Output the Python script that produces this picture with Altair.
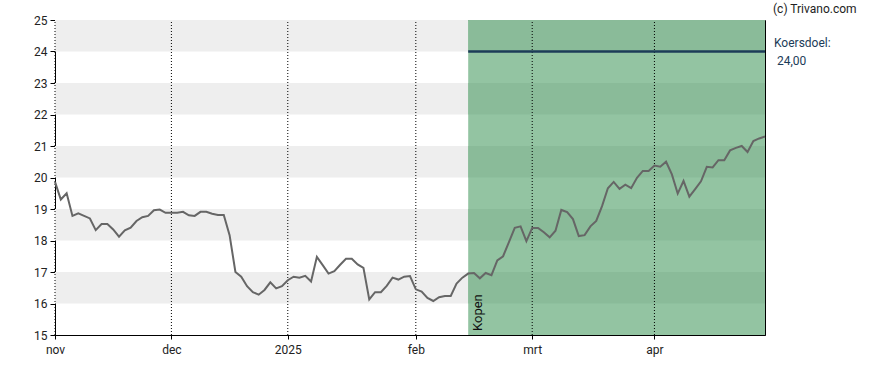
import altair as alt
import pandas as pd

prices = [
    19.86, 19.30, 19.50, 18.78, 18.86, 18.78, 18.70, 18.33, 18.52, 18.52,
    18.35, 18.12, 18.32, 18.41, 18.62, 18.74, 18.78, 18.96, 18.98, 18.88,
    18.88, 18.88, 18.91, 18.80, 18.78, 18.91, 18.91, 18.85, 18.81, 18.81,
    18.17, 17.00, 16.85, 16.55, 16.36, 16.28, 16.43, 16.67, 16.48, 16.55,
    16.74, 16.85, 16.82, 16.88, 16.70, 17.48, 17.22, 16.95, 17.03, 17.23,
    17.42, 17.42, 17.24, 17.13, 16.13, 16.36, 16.36, 16.56, 16.82, 16.76,
    16.85, 16.87, 16.45, 16.38, 16.18, 16.08, 16.20, 16.24, 16.24, 16.63,
    16.82, 16.95, 16.97, 16.80, 16.97, 16.90, 17.37, 17.50, 17.95, 18.40,
    18.45, 17.98, 18.40, 18.40, 18.26, 18.10, 18.31, 18.97, 18.90, 18.68,
    18.14, 18.17, 18.45, 18.62, 19.09, 19.66, 19.86, 19.64, 19.77, 19.66,
    19.99, 20.21, 20.21, 20.38, 20.34, 20.50, 20.10, 19.49, 19.89, 19.39,
    19.63, 19.88, 20.34, 20.32, 20.55, 20.55, 20.86, 20.94, 21.00, 20.81,
    21.16, 21.24, 21.30,
]
month_ticks = [0, 20, 40, 62, 82, 103]
month_labels = ["nov", "dec", "2025", "feb", "mrt", "apr"]
band_lows = [16, 18, 20, 22, 24]
y_min, y_max = 15, 25
signal_start = 71
signal_label = "Kopen"
target_value = 24.0
copyright_text = "(c) Trivano.com"
target_title = "Koersdoel:"

FONT = "Roboto"
W, H = 710, 315

n = len(prices)
last = n - 1
df = pd.DataFrame({"i": list(range(n)), "price": prices})

grey_bands = pd.DataFrame({"x": [0] * len(band_lows), "x2": [signal_start] * len(band_lows),
                           "y": band_lows, "y2": [b + 1 for b in band_lows]})
green_bands = pd.DataFrame({"x": [signal_start] * len(band_lows), "x2": [last] * len(band_lows),
                            "y": band_lows, "y2": [b + 1 for b in band_lows]})
green_full = pd.DataFrame({"x": [signal_start], "x2": [last], "y": [y_min], "y2": [y_max]})
ticks_df = pd.DataFrame({"x": month_ticks, "y": [y_min] * len(month_ticks),
                         "y2": [y_max] * len(month_ticks)})
target_df = pd.DataFrame({"x": [signal_start], "x2": [last], "y": [target_value]})
signal_df = pd.DataFrame({"x": [signal_start], "y": [y_min], "t": [signal_label]})

label_expr = ""
for t, l in zip(month_ticks, month_labels):
    label_expr += f"datum.value == {t} ? '{l}' : "
label_expr += "''"

xscale = alt.Scale(domain=[0, last], nice=False, zero=False)
yscale = alt.Scale(domain=[y_min, y_max], nice=False, zero=False)

xaxis = alt.Axis(values=month_ticks, labelExpr=label_expr, title=None, grid=False,
                 tickSize=4, tickColor="#000", domainColor="#000", labelFont=FONT,
                 labelFontSize=12, labelColor="#222", labelPadding=5, labelFlush=False,
                 labelOverlap=False)
yaxis = alt.Axis(values=list(range(y_min, y_max + 1)), title=None, grid=False,
                 tickSize=5, tickColor="#000", domainColor="#000", labelFont=FONT,
                 labelFontSize=12, labelColor="#222", labelPadding=3, labelOverlap=False,
                 labelFlush=False)


def X(f):
    return alt.X(f, scale=xscale, axis=xaxis)


def Y(f):
    return alt.Y(f, scale=yscale, axis=yaxis)


grey = alt.Chart(grey_bands).mark_rect(color="#eeeeee").encode(
    x=X("x:Q"), x2="x2", y=Y("y:Q"), y2="y2")
gfull = alt.Chart(green_full).mark_rect(color="#93c4a2").encode(
    x=X("x:Q"), x2="x2", y=Y("y:Q"), y2="y2")
gbands = alt.Chart(green_bands).mark_rect(color="#8abb99").encode(
    x=X("x:Q"), x2="x2", y=Y("y:Q"), y2="y2")
grid = alt.Chart(ticks_df).mark_rule(color="#000", strokeWidth=1, strokeDash=[1, 2]).encode(
    x=X("x:Q"), y=Y("y:Q"), y2="y2")
target = alt.Chart(target_df).mark_rule(color="#1c3c58", strokeWidth=2.5).encode(
    x=X("x:Q"), x2="x2", y=Y("y:Q"))
line = alt.Chart(df).mark_line(color="#666666", strokeWidth=2).encode(
    x=X("i:Q"), y=Y("price:Q"))
sig = alt.Chart(signal_df).mark_text(angle=270, align="left", baseline="top", dx=4, dy=4,
                                     font=FONT, fontSize=13, color="#111").encode(
    x=X("x:Q"), y=Y("y:Q"), text="t:N")

copy_t = alt.Chart(pd.DataFrame({"t": [copyright_text]})).mark_text(
    align="left", baseline="alphabetic", font=FONT, fontSize=12, color="#222").encode(
    x=alt.value(W + 8), y=alt.value(-7), text="t:N")
kd_t = alt.Chart(pd.DataFrame({"t": [target_title]})).mark_text(
    align="left", baseline="alphabetic", font=FONT, fontSize=12, color="#1c3c58").encode(
    x=alt.value(W + 9), y=alt.value(27), text="t:N")
kv_t = alt.Chart(pd.DataFrame({"t": [f"{target_value:.2f}".replace('.', ',')]})).mark_text(
    align="left", baseline="alphabetic", font=FONT, fontSize=12, color="#1c3c58").encode(
    x=alt.value(W + 12), y=alt.value(45), text="t:N")

chart = alt.layer(grey, gfull, gbands, grid, target, line, sig, copy_t, kd_t, kv_t).properties(
    width=W, height=H,
    autosize=alt.AutoSizeParams(type="none"),
    padding={"left": 55, "top": 20, "right": 123, "bottom": 35},
    background="white",
).configure_view(stroke="#000", strokeWidth=1)

chart.save("out.html", embed_options={"renderer": "svg", "actions": False})
